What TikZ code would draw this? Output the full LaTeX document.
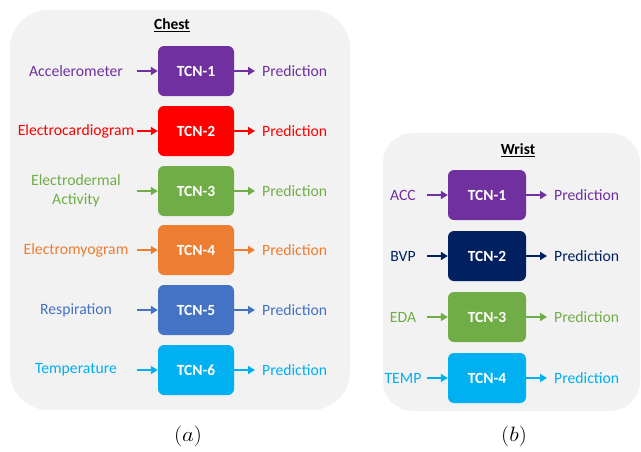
\documentclass[tikz,border=0pt]{standalone}
\usepackage{fontspec}
\newfontfamily\carlfont{Carlito}
\usetikzlibrary{arrows.meta}
\definecolor{cpurple}{HTML}{7030A0}
\definecolor{cred}{HTML}{FF0000}
\definecolor{cgreen}{HTML}{70AD47}
\definecolor{corange}{HTML}{ED7D31}
\definecolor{cblue}{HTML}{4472C4}
\definecolor{ccyan}{HTML}{00B0F0}
\definecolor{cnavy}{HTML}{002060}
\definecolor{panelgray}{HTML}{F2F2F2}
\begin{document}
\begin{tikzpicture}[x=1pt,y=-1pt,
  panel/.style={fill=panelgray,draw=none},
  tcn/.style={fill=#1,draw=none,rounded corners=6pt,minimum width=76pt,minimum height=50pt,text=white,font=\carlfont\bfseries\fontsize{15.5}{18}\selectfont,inner sep=0pt},
  lbl/.style={text=#1,font=\carlfont\fontsize{15.7}{19.5}\selectfont,inner sep=0pt,align=center},
  title/.style={font=\carlfont\bfseries\fontsize{15.5}{18}\selectfont,inner sep=0pt},
  arr/.style={draw=#1,line width=1.8pt,-{Triangle[length=7pt,width=8pt]}},
  captxt/.style={font=\fontsize{21}{25}\selectfont,inner sep=0pt,xscale=1.1}]
\useasboundingbox (0,0) rectangle (641,451);
% panels
\fill[panel,rounded corners=38pt] (10,10) rectangle (350,410);
\fill[panel,rounded corners=30pt] (383,133) rectangle (640,411);
\node[title] (tchest) at (172,25) {\underline{Chest}};
\node[title] (twrist) at (518,150) {\underline{Wrist}};
% chest rows
\foreach \i/\y/\c/\t in {1/71/cpurple/Accelerometer,2/131/cred/Electrocardiogram,3/191/cgreen/{Electrodermal\\Activity},4/250/corange/Electromyogram,5/310/cblue/Respiration,6/370/ccyan/Temperature}{
  \node[tcn=\c] (c\i) at (196,\y) {TCN-\i};
  \node[lbl=\c] (ci\i) at (76,\y) {\t};
  \node[lbl=\c,anchor=west] (co\i) at (262,\y) {Prediction};
  \coordinate (cs\i) at (137,\y);
  \draw[arr=\c] (cs\i) -- (c\i.west);
  \draw[arr=\c] (c\i.east) -- ([xshift=-7pt]co\i.west);
}
% wrist rows
\foreach \i/\y/\c/\t in {1/195/cpurple/ACC,2/256/cnavy/BVP,3/317/cgreen/EDA,4/378/ccyan/TEMP}{
  \node[tcn=\c,minimum width=78pt] (w\i) at (487,\y) {TCN-\i};
  \node[lbl=\c] (wi\i) at (403,\y) {\t};
  \node[lbl=\c,anchor=west] (wo\i) at (554,\y) {Prediction};
  \coordinate (ws\i) at (427,\y);
  \draw[arr=\c] (ws\i) -- (w\i.west);
  \draw[arr=\c] (w\i.east) -- ([xshift=-7pt]wo\i.west);
}
\node[captxt] (capa) at (188,436) {$(a)$};
\node[captxt] (capb) at (514,436) {$(b)$};
\end{tikzpicture}
\end{document}
